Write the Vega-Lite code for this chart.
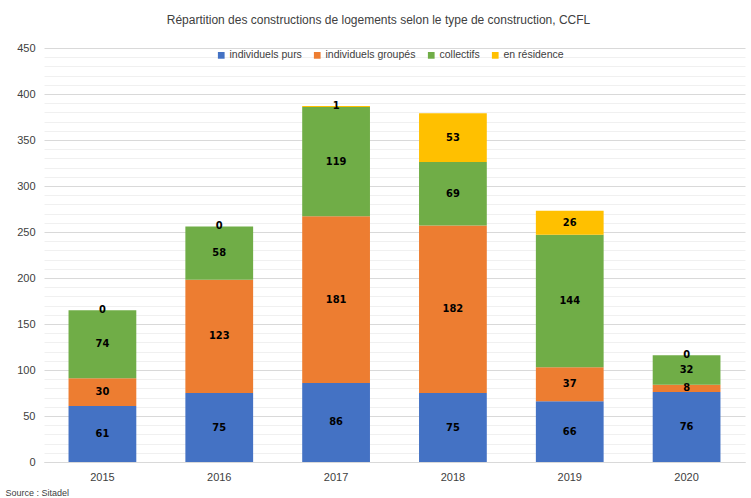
{
  "$schema": "https://vega.github.io/schema/vega-lite/v6.json",
  "width": 701,
  "height": 414,
  "autosize": {"type": "none"},
  "padding": {"left": 44, "top": 48, "right": 6, "bottom": 36},
  "background": "white",
  "title": {
    "text": "Répartition des constructions de logements selon le type de construction, CCFL",
    "fontSize": 12,
    "font": "Liberation Sans, Arial, sans-serif",
    "fontWeight": "normal",
    "color": "#404040",
    "offset": 15,
    "dx": -16
  },
  "data": {
    "values": [
      {"year": "2015", "type": "individuels purs", "n": 61},
      {"year": "2015", "type": "individuels groupés", "n": 30},
      {"year": "2015", "type": "collectifs", "n": 74},
      {"year": "2015", "type": "en résidence", "n": 0},
      {"year": "2016", "type": "individuels purs", "n": 75},
      {"year": "2016", "type": "individuels groupés", "n": 123},
      {"year": "2016", "type": "collectifs", "n": 58},
      {"year": "2016", "type": "en résidence", "n": 0},
      {"year": "2017", "type": "individuels purs", "n": 86},
      {"year": "2017", "type": "individuels groupés", "n": 181},
      {"year": "2017", "type": "collectifs", "n": 119},
      {"year": "2017", "type": "en résidence", "n": 1},
      {"year": "2018", "type": "individuels purs", "n": 75},
      {"year": "2018", "type": "individuels groupés", "n": 182},
      {"year": "2018", "type": "collectifs", "n": 69},
      {"year": "2018", "type": "en résidence", "n": 53},
      {"year": "2019", "type": "individuels purs", "n": 66},
      {"year": "2019", "type": "individuels groupés", "n": 37},
      {"year": "2019", "type": "collectifs", "n": 144},
      {"year": "2019", "type": "en résidence", "n": 26},
      {"year": "2020", "type": "individuels purs", "n": 76},
      {"year": "2020", "type": "individuels groupés", "n": 8},
      {"year": "2020", "type": "collectifs", "n": 32},
      {"year": "2020", "type": "en résidence", "n": 0}
    ]
  },
  "transform": [
    {"calculate": "indexof(['individuels purs','individuels groupés','collectifs','en résidence'], datum.type)", "as": "ord"},
    {"stack": "n", "groupby": ["year"], "sort": [{"field": "ord", "order": "ascending"}], "as": ["y0", "y1"]},
    {"calculate": "(datum.y0 + datum.y1) / 2", "as": "ymid"}
  ],
  "encoding": {
    "x": {
      "field": "year",
      "type": "ordinal",
      "scale": {"paddingInner": 0.42, "paddingOuter": 0.21},
      "axis": {
        "title": "Source : Sitadel",
        "titleAnchor": "start",
        "titleAlign": "left",
        "titleBaseline": "alphabetic",
        "titleX": -39,
        "titleY": 33,
        "titleFontSize": 9,
        "titleFontWeight": "normal",
        "titleColor": "#404040",
        "titleFont": "Liberation Sans, Arial, sans-serif",
        "labelAngle": 0,
        "labelFontSize": 11,
        "labelColor": "#404040",
        "labelPadding": 9,
        "labelFont": "Liberation Sans, Arial, sans-serif",
        "ticks": false,
        "domainColor": "#d9d9d9",
        "grid": false
      }
    }
  },
  "layer": [
    {
      "mark": {"type": "bar"},
      "encoding": {
        "y": {
          "field": "y0",
          "type": "quantitative",
          "scale": {"domain": [0, 450], "nice": false},
          "axis": {
            "title": null,
            "values": [0,10,20,30,40,50,60,70,80,90,100,110,120,130,140,150,160,170,180,190,200,210,220,230,240,250,260,270,280,290,300,310,320,330,340,350,360,370,380,390,400,410,420,430,440,450],
            "tickCount": 46,
            "labelExpr": "datum.value % 50 === 0 ? datum.label : ''",
            "labelOverlap": false,
            "labelFlush": false,
            "gridColor": {"condition": {"test": "datum.value % 50 === 0", "value": "#d9d9d9"}, "value": "#f0f0f0"},
            "ticks": false,
            "domain": false,
            "labelFontSize": 11,
            "labelColor": "#404040",
            "labelPadding": 9,
            "labelFont": "Liberation Sans, Arial, sans-serif"
          }
        },
        "y2": {"field": "y1"},
        "color": {
          "field": "type",
          "type": "nominal",
          "scale": {
            "domain": ["individuels purs", "individuels groupés", "collectifs", "en résidence"],
            "range": ["#4472C4", "#ED7D31", "#70AD47", "#FFC000"]
          },
          "legend": {
            "title": null,
            "orient": "none",
            "direction": "horizontal",
            "legendX": 172,
            "legendY": 2,
            "symbolType": "square",
            "symbolSize": 45,
            "symbolStrokeWidth": 0,
            "labelFontSize": 10.5,
            "labelColor": "#404040",
            "labelFont": "Liberation Sans, Arial, sans-serif",
            "columnPadding": 10,
            "labelOffset": 3
          }
        }
      }
    },
    {
      "mark": {
        "type": "text",
        "fontWeight": "bold",
        "fontSize": 11,
        "color": "#000000",
        "baseline": "middle",
        "font": "DejaVu Sans Condensed, sans-serif"
      },
      "encoding": {
        "y": {"field": "ymid", "type": "quantitative"},
        "text": {"field": "n", "type": "quantitative"}
      }
    }
  ],
  "config": {
    "view": {"stroke": null}
  }
}
